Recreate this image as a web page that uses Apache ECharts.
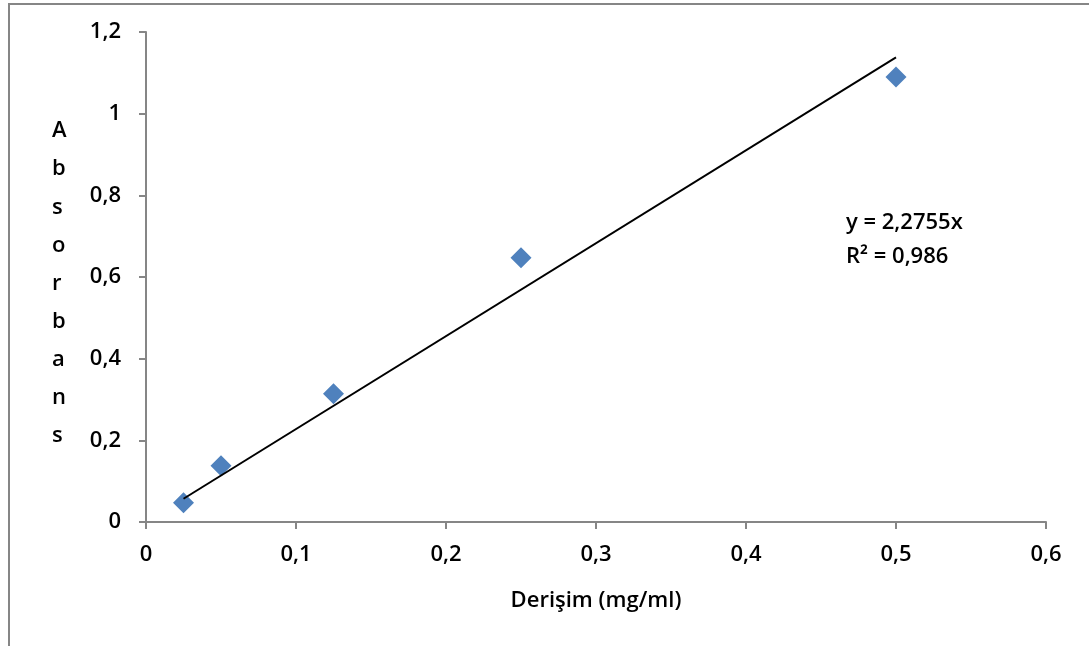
<!DOCTYPE html>
<html>
<head>
<meta charset="utf-8">
<script src="https://cdn.jsdelivr.net/npm/echarts@6/dist/echarts.min.js"></script>
<style>
html,body{margin:0;padding:0;background:#fff;}
#c{width:1089px;height:646px;}
</style>
</head>
<body>
<div id="c"></div>
<script>
const concentrations = [0.025, 0.05, 0.125, 0.25, 0.5];
const absorbances = [0.047, 0.138, 0.314, 0.647, 1.09];
const slope = 2.2755;
const trendX = [0.025, 0.5];
const equationText = ['y = 2,2755x', 'R² = 0,986'];
const xTitle = 'Derişim (mg/ml)';
const yTitle = 'Absorbans';

const FONT = '"Open Sans", "Noto Sans", sans-serif';
const FS = 22;
const FW = 600;
const fmt = v => String(Math.round(v * 10) / 10).replace('.', ',');

const chart = echarts.init(document.getElementById('c'));
chart.setOption({
  animation: false,
  backgroundColor: '#fff',
  textStyle: { fontFamily: FONT },
  grid: { left: 146, right: 43, top: 32, bottom: 124 },
  xAxis: {
    type: 'value', min: 0, max: 0.6, interval: 0.1,
    axisLine: { lineStyle: { color: '#868686', width: 2 } },
    axisTick: { show: true, length: 7, lineStyle: { color: '#868686', width: 2 } },
    splitLine: { show: false },
    axisLabel: { formatter: fmt, color: '#000', fontSize: FS, fontWeight: FW, margin: 22, fontFamily: FONT },
    name: xTitle, nameLocation: 'middle', nameGap: 68,
    nameTextStyle: { color: '#000', fontSize: FS, fontWeight: FW, fontFamily: FONT }
  },
  yAxis: {
    type: 'value', min: 0, max: 1.2, interval: 0.2,
    axisLine: { show: true, lineStyle: { color: '#868686', width: 2 } },
    axisTick: { show: true, length: 7, lineStyle: { color: '#868686', width: 2 } },
    splitLine: { show: false },
    axisLabel: { formatter: fmt, color: '#000', fontSize: FS, fontWeight: FW, margin: 25, fontFamily: FONT }
  },
  graphic: [
    { type: 'rect', z: -10, shape: { x: 9, y: 4, width: 1200, height: 800 },
      style: { fill: 'none', stroke: '#868686', lineWidth: 2 } },
    { type: 'text', left: 52, top: 112, z: 10,
      style: { text: yTitle.split('').join('\n'), fill: '#000', font: FW + ' ' + FS + 'px ' + FONT,
        lineHeight: 38.1, align: 'center', width: 20 } },
    { type: 'text', left: 846, top: 206, z: 10,
      style: { text: equationText.join('\n'), fill: '#000', font: FW + ' ' + FS + 'px ' + FONT,
        lineHeight: 34, align: 'center' } }
  ],
  series: [
    {
      type: 'scatter', symbol: 'diamond', symbolSize: 21, z: 2,
      itemStyle: { color: '#4F81BD', opacity: 1 },
      data: concentrations.map((x, i) => [x, absorbances[i]])
    },
    {
      type: 'line', symbol: 'none', z: 3,
      lineStyle: { color: '#000', width: 2 },
      data: trendX.map(x => [x, slope * x])
    }
  ]
});
</script>
</body>
</html>
